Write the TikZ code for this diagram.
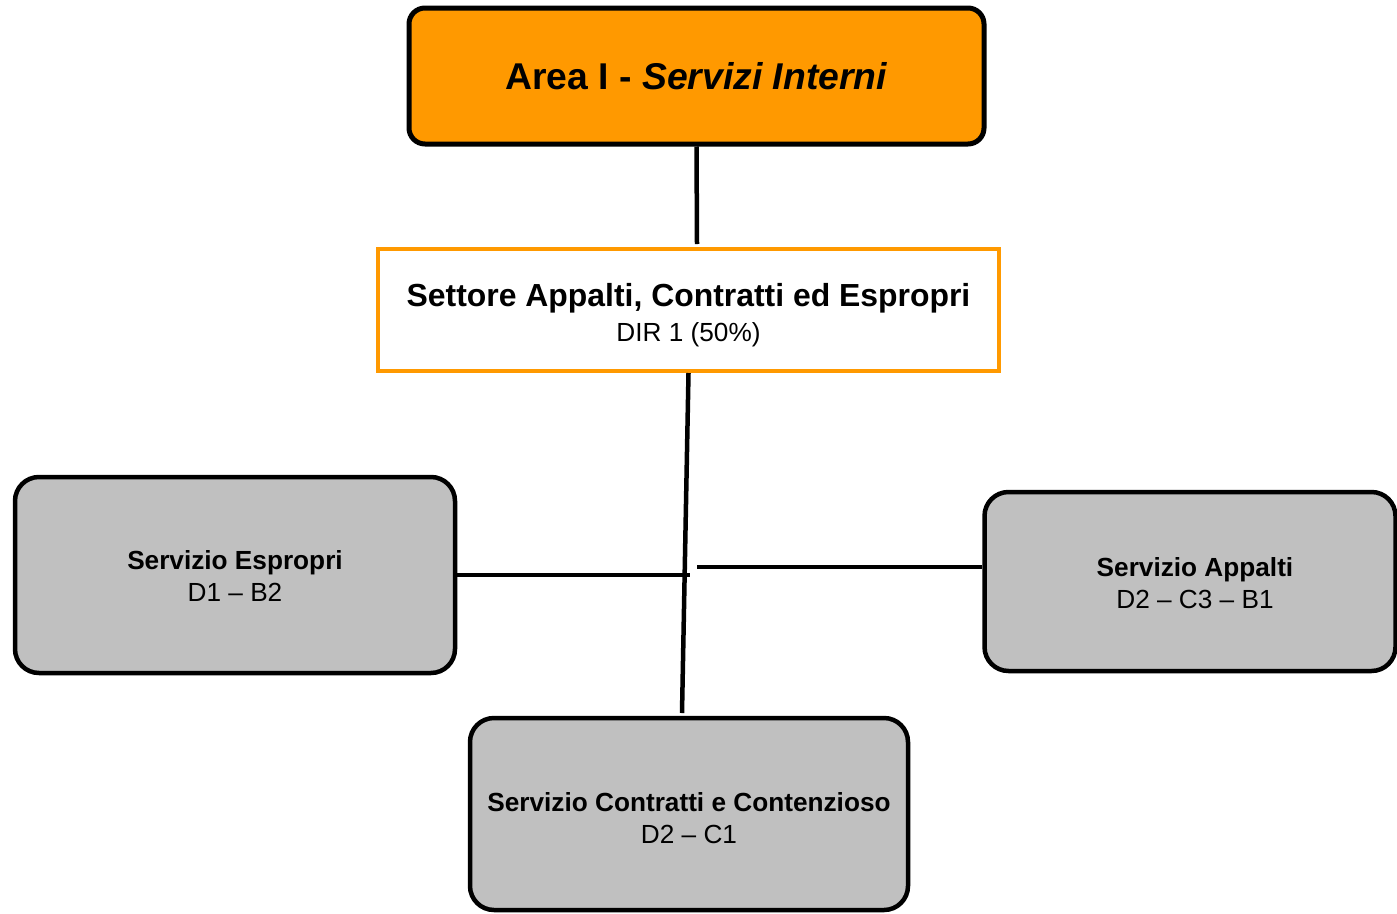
\documentclass[tikz,border=0pt]{standalone}
\usepackage{fontspec}
\setmainfont{Liberation Sans}
\definecolor{areaor}{HTML}{FF9900}
\definecolor{boxgray}{HTML}{C0C0C0}
\begin{document}
\begin{tikzpicture}[x=1pt,y=-1pt,
  areabox/.style={draw=black, line width=5pt, fill=areaor, rounded corners=16pt, inner sep=0pt, align=center,
    font=\fontsize{37.3}{44}\selectfont\bfseries},
  setbox/.style={draw=areaor, line width=4pt, fill=white, inner sep=0pt},
  servbox/.style={draw=black, line width=4.5pt, fill=boxgray, rounded corners=24pt, inner sep=0pt},
  servtext/.style={inner sep=0pt, align=center, font=\fontsize{26.2}{32}\selectfont},
  settext/.style={inner sep=0pt, align=center, font=\fontsize{26.2}{35}\selectfont},
  link/.style={line width=4.5pt, draw=black}]
\useasboundingbox (0,0) rectangle (1397,913);
\node[areabox, minimum width=575pt, minimum height=136pt] (area) at (696.5,76) {Area I - \textit{Servizi Interni}};
\node[setbox, minimum width=621pt, minimum height=122pt] (settore) at (688.5,310) {};
\node[settext] (settoretext) at (688.5,315)
  {{\fontsize{31.9}{35}\selectfont\bfseries Settore Appalti, Contratti ed Espropri}\\DIR 1 (50\%)};
\node[servbox, minimum width=440pt, minimum height=196pt] (espropri) at (235,575) {};
\node[servtext] (espropritext) at (235,576) {\textbf{Servizio Espropri}\\D1 – B2};
\node[servbox, minimum width=411pt, minimum height=179pt] (appalti) at (1190,581.5) {};
\node[servtext] (appaltitext) at (1195,583) {\textbf{Servizio Appalti}\\D2 – C3 – B1};
\node[servbox, minimum width=438pt, minimum height=192pt] (contratti) at (689,814) {};
\node[servtext] (contrattitext) at (689,818) {\textbf{Servizio Contratti e Contenzioso}\\D2 – C1};
\coordinate (a1) at (697,244);
\coordinate (s1) at (682,713);
\coordinate (e1) at (690,575);
\coordinate (p1) at (697,567);
\draw[link] (area.south) -- (a1);
\draw[link] (settore.south) -- (s1);
\draw[link] (espropri.east) -- (e1);
\draw[link] (p1) -- (p1 -| appalti.west);
\end{tikzpicture}
\end{document}
